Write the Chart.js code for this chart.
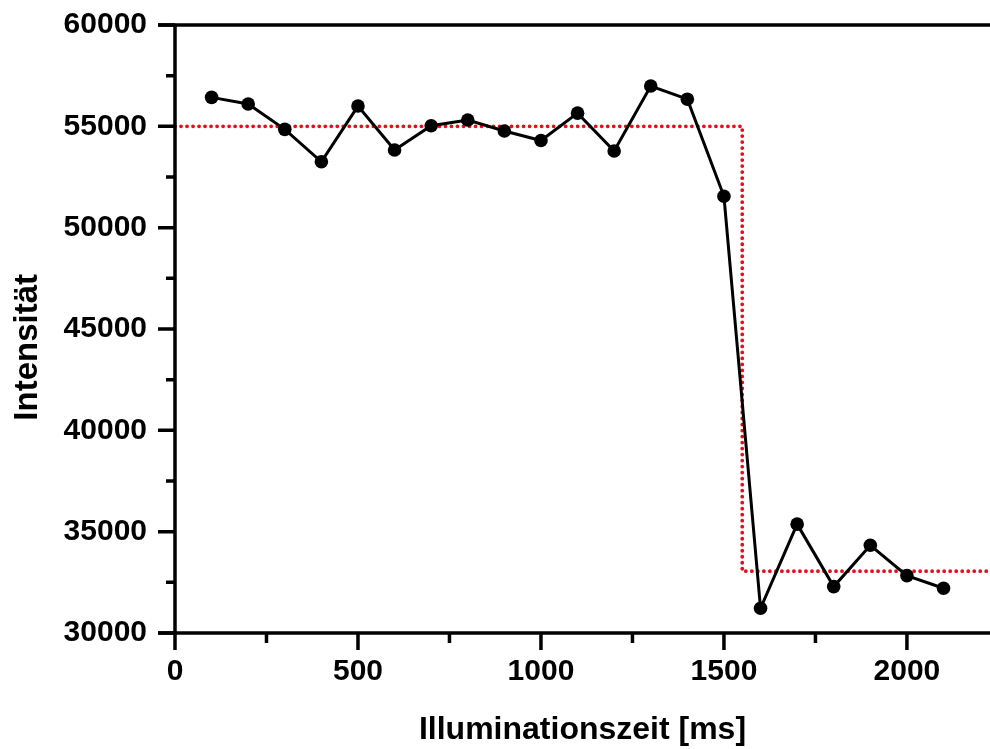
<!DOCTYPE html>
<html>
<head>
<meta charset="utf-8">
<script src="https://cdn.jsdelivr.net/npm/chart.js@4.4.1/dist/chart.umd.min.js"></script>
<style>
  html, body { margin: 0; padding: 0; background: #fff; overflow: hidden; }
  #wrap { width: 990px; height: 749px; position: relative; }
  canvas { display: block; }
</style>
</head>
<body>
<div id="wrap"><canvas id="c" width="990" height="749"></canvas></div>
<script>
// ---- data ----
const times = [100, 200, 300, 400, 500, 600, 700, 800, 900, 1000, 1100, 1200, 1300, 1400, 1500, 1600, 1700, 1800, 1900, 2000, 2100];
const intensity = [56430, 56100, 54850, 53250, 56000, 53830, 55030, 55310, 54770, 54300, 55650, 53780, 56990, 56340, 51550, 31220, 35370, 32290, 34330, 32830, 32210];
const stepX = [0, 1550, 1550, 2227];
const stepY = [55000, 55000, 33050, 33050];
const xTickValues = [0, 500, 1000, 1500, 2000];
const xMinorValues = [250, 750, 1250, 1750];
const yTickValues = [30000, 35000, 40000, 45000, 50000, 55000, 60000];
const yMinorValues = [32500, 37500, 42500, 47500, 52500, 57500];
const xTitle = 'Illuminationszeit [ms]';
const yTitle = 'Intensität';

const FONT = "'Liberation Sans', Arial, Helvetica, sans-serif";

const axisPlugin = {
  id: 'axisPlugin',
  afterDraw(chart) {
    const ctx = chart.ctx;
    const x = chart.scales.x, y = chart.scales.y;
    const a = chart.chartArea;
    ctx.save();
    ctx.strokeStyle = '#000';
    ctx.lineWidth = 3.5;
    ctx.lineCap = 'butt';
    ctx.beginPath();
    ctx.moveTo(a.left, a.top - 1.75);
    ctx.lineTo(a.left, a.bottom + 1.75);
    ctx.moveTo(a.left - 17, a.bottom);
    ctx.lineTo(chart.width, a.bottom);
    ctx.moveTo(a.left - 17, a.top);
    ctx.lineTo(chart.width, a.top);
    ctx.stroke();
    ctx.beginPath();
    yTickValues.forEach(v => { const p = y.getPixelForValue(v); ctx.moveTo(a.left - 17, p); ctx.lineTo(a.left, p); });
    yMinorValues.forEach(v => { const p = y.getPixelForValue(v); ctx.moveTo(a.left - 9, p); ctx.lineTo(a.left, p); });
    xTickValues.forEach(v => { const p = x.getPixelForValue(v); ctx.moveTo(p, a.bottom); ctx.lineTo(p, a.bottom + 17); });
    xMinorValues.forEach(v => { const p = x.getPixelForValue(v); ctx.moveTo(p, a.bottom); ctx.lineTo(p, a.bottom + 10); });
    ctx.stroke();
    ctx.restore();
  }
};

new Chart(document.getElementById('c'), {
  type: 'scatter',
  data: {
    datasets: [
      {
        label: 'Intensität',
        data: times.map((t, i) => ({ x: t, y: intensity[i] })),
        showLine: true,
        borderColor: '#000',
        backgroundColor: '#000',
        borderWidth: 3,
        pointRadius: 6.8,
        pointHoverRadius: 6.8,
        pointBorderWidth: 0,
        tension: 0
      },
      {
        label: 'Stufe',
        data: stepX.map((t, i) => ({ x: t, y: stepY[i] })),
        showLine: true,
        borderColor: '#e3101c',
        borderWidth: 3.8,
        borderCapStyle: 'round',
        borderDash: [0.01, 6],
        pointRadius: 0,
        tension: 0
      }
    ]
  },
  options: {
    responsive: false,
    animation: false,
    devicePixelRatio: 1,
    layout: { autoPadding: false, padding: { top: 25, left: 0, right: 0, bottom: 0 } },
    plugins: { legend: { display: false }, tooltip: { enabled: false } },
    scales: {
      x: {
        type: 'linear',
        min: 0,
        max: 2227,
        grid: { display: false, drawTicks: false },
        border: { display: false },
        afterBuildTicks: (s) => { s.ticks = xTickValues.map(v => ({ value: v })); },
        afterFit: (s) => { s.height = 116; s.paddingLeft = 0; s.paddingRight = 0; },
        ticks: {
          color: '#000',
          padding: 21,
          maxRotation: 0,
          autoSkip: false,
          font: { family: FONT, size: 30, weight: 'bold' },
          callback: (v) => String(v)
        },
        title: {
          display: true,
          text: xTitle,
          color: '#000',
          padding: { top: 0, bottom: 0 },
          font: { family: FONT, size: 32, weight: 'bold' }
        }
      },
      y: {
        type: 'linear',
        min: 30000,
        max: 60000,
        grid: { display: false, drawTicks: false },
        border: { display: false },
        afterBuildTicks: (s) => { s.ticks = yTickValues.map(v => ({ value: v })); },
        afterFit: (s) => { s.width = 175; s.paddingTop = 0; s.paddingBottom = 0; },
        ticks: {
          color: '#000',
          padding: 28,
          font: { family: FONT, size: 30, weight: 'bold' },
          callback: (v) => String(v)
        },
        title: {
          display: true,
          text: yTitle + '    ',
          color: '#000',
          padding: { top: 8, bottom: 0 },
          font: { family: FONT, size: 33, weight: 'bold' }
        }
      }
    }
  },
  plugins: [axisPlugin]
});
</script>
</body>
</html>
